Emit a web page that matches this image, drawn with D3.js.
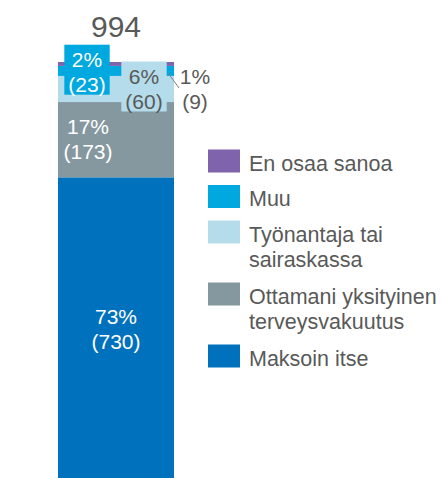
<!DOCTYPE html>
<html>
<head>
<meta charset="utf-8">
<script src="https://cdn.jsdelivr.net/npm/d3@7"></script>
<style>
  body { margin: 0; background: #fff; }
  svg { display: block; font-family: "Liberation Sans", Arial, sans-serif; }
</style>
</head>
<body>
<svg width="443" height="478"></svg>
<script>
// stacked from the bottom up
var categories = ["Maksoin itse", "Ottamani yksityinen terveysvakuutus", "Työnantaja tai sairaskassa", "Muu", "En osaa sanoa"];
var counts = [730, 173, 60, 23, 9];
var percents = [73, 17, 6, 2, 1];
var legendLines = [["Maksoin itse"], ["Ottamani yksityinen", "terveysvakuutus"], ["Työnantaja tai", "sairaskassa"], ["Muu"], ["En osaa sanoa"]];
var colors = ["#0071BC", "#8598A0", "#B4DCEB", "#00A8E0", "#7F63AC"];
var total = 994;

var svg = d3.select("svg"),
    textGrey = "#595959";

var row = {};
categories.forEach(function(c, i) { row[c] = counts[i]; });
var series = d3.stack().keys(categories)([row]);

var x = d3.scaleBand().domain(["all"]).range([58, 174]).padding(0),
    y = d3.scaleLinear().domain([0, d3.sum(counts)]).range([495, 62]);

var cx = x("all") + x.bandwidth() / 2;

svg.append("g").selectAll("rect")
  .data(series)
  .enter().append("rect")
    .attr("x", x("all"))
    .attr("width", x.bandwidth())
    .attr("y", function(d) { return y(d[0][1]); })
    .attr("height", function(d) { return y(d[0][0]) - y(d[0][1]); })
    .attr("fill", function(d, i) { return colors[i]; });

// total above the bar
svg.append("text")
    .attr("x", cx)
    .attr("y", 37)
    .attr("text-anchor", "middle")
    .attr("font-size", 30)
    .attr("fill", textGrey)
    .text(total);

// segment labels: dx / first baseline / text colour / optional box
var labelPos = [
  { x: cx, y: (y(730) + 478) / 2 - 4, fill: "#fff" },
  { x: cx - 28, y: null, fill: "#fff" },
  { x: 144, y: 83.5, fill: textGrey, box: true },
  { x: 87, y: 66.7, fill: "#fff", box: true },
  { x: 195, y: 83.5, fill: textGrey }
];

var lineH = 25;
var labels = svg.append("g").attr("font-size", 21);

series.forEach(function(s, i) {
  var p = labelPos[i];
  var top = y(s[0][1]), bot = y(s[0][0]);
  var base = p.y != null ? p.y : (top + bot) / 2 - 6;
  var g = labels.append("g");
  var t = g.append("text")
      .attr("text-anchor", "middle")
      .attr("fill", p.fill);
  t.append("tspan").attr("x", p.x).attr("y", base).text(percents[i] + "%");
  t.append("tspan").attr("x", p.x).attr("y", base + lineH).text("(" + counts[i] + ")");
  if (p.box) {
    var bb = t.node().getBBox();
    g.insert("rect", "text")
      .attr("x", bb.x - 4)
      .attr("y", bb.y - 3)
      .attr("width", bb.width + 8)
      .attr("height", bb.height + 2)
      .attr("fill", colors[i]);
  }
});

// leader for the smallest slice
svg.append("line")
    .attr("x1", x("all") + x.bandwidth() - 6)
    .attr("y1", y(d3.sum(counts) - 9 - 23 / 2) + 2)
    .attr("x2", 179)
    .attr("y2", 88)
    .attr("stroke", "#7f7f7f")
    .attr("stroke-width", 1);

// legend, top to bottom in reverse stack order
var legend = svg.append("g").attr("font-size", 21.5).attr("fill", textGrey);
var ly = 149.5;
d3.range(categories.length - 1, -1, -1).forEach(function(i) {
  legend.append("rect")
      .attr("x", 208)
      .attr("y", ly)
      .attr("width", 32)
      .attr("height", 23)
      .attr("fill", colors[i]);
  var t = legend.append("text");
  legendLines[i].forEach(function(line, j) {
    t.append("tspan").attr("x", 249).attr("y", ly + 21 + j * 25.5).text(line);
  });
  ly += 35.5 + (legendLines[i].length - 1) * 26.5;
});
</script>
</body>
</html>
